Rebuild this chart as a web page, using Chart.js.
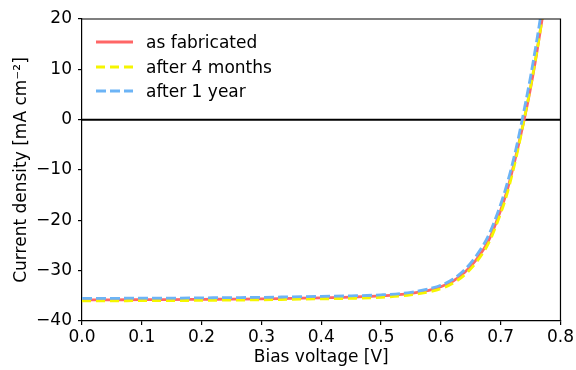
<!DOCTYPE html>
<html>
<head>
<meta charset="utf-8">
<script src="https://cdn.jsdelivr.net/npm/chart.js@4/dist/chart.umd.min.js"></script>
<style>
  html, body { margin: 0; padding: 0; background: #fff; }
  #wrap { width: 576px; height: 370px; }
</style>
</head>
<body>
<div id="wrap"><canvas id="jv" width="576" height="370"></canvas></div>
<script>
// Bias voltage sample points [V]
const voltage = [0, 0.05, 0.1, 0.15, 0.2, 0.25, 0.3, 0.35, 0.4, 0.45, 0.5, 0.55, 0.58, 0.6, 0.62, 0.64, 0.66, 0.68, 0.7, 0.71, 0.72, 0.73, 0.74, 0.75, 0.76, 0.77, 0.775];

// Current density [mA cm^-2] for each measurement
const asFabricated = [-35.8, -35.8, -35.75, -35.75, -35.7, -35.65, -35.6, -35.5, -35.4, -35.25, -35.0, -34.5, -33.9, -33.2, -32.1, -30.3, -27.7, -24.0, -18.0, -14.4, -9.9, -4.9, 0.4, 6.3, 13.0, 20.5, 24.5];
const after4Months = [-36.0, -36.0, -35.95, -35.95, -35.9, -35.85, -35.8, -35.7, -35.6, -35.5, -35.3, -34.8, -34.2, -33.6, -32.5, -30.8, -28.2, -24.5, -18.6, -15.0, -10.5, -5.3, 0.5, 6.5, 13.2, 20.5, 24.5];
const after1Year = [-35.5, -35.5, -35.45, -35.45, -35.4, -35.35, -35.3, -35.2, -35.1, -35.0, -34.8, -34.3, -33.6, -32.9, -31.7, -29.8, -26.9, -22.9, -16.8, -13.0, -8.6, -3.4, 2.4, 8.6, 15.5, 23.0, 27.0];

const seriesNames = ['as fabricated', 'after 4 months', 'after 1 year'];

// Axis tick values
const xTicks = [0, 0.1, 0.2, 0.3, 0.4, 0.5, 0.6, 0.7, 0.8];
const yTicks = [-40, -30, -20, -10, 0, 10, 20];

const FONT = 'DejaVu Sans';
const FS = 17;

function pts(ys) { return voltage.map((v, i) => ({ x: v, y: ys[i] })); }

// Top/right frame plus the in-plot legend
const framePlugin = {
  id: 'frameAndLegend',
  afterDraw(chart) {
    const { ctx, chartArea: a } = chart;
    ctx.save();
    ctx.strokeStyle = '#000';
    ctx.lineWidth = 1.2;
    ctx.beginPath();
    ctx.moveTo(a.left, a.top);
    ctx.lineTo(a.right, a.top);
    ctx.lineTo(a.right, a.bottom);
    ctx.stroke();

    const x0 = 96, x1 = 133, tx = 146, rows = [42, 67, 91];
    chart.data.datasets.slice(0, 3).forEach((ds, i) => {
      ctx.beginPath();
      ctx.strokeStyle = ds.borderColor;
      ctx.lineWidth = ds.borderWidth;
      ctx.setLineDash(ds.borderDash || []);
      ctx.moveTo(x0, rows[i]);
      ctx.lineTo(x1, rows[i]);
      ctx.stroke();
      ctx.setLineDash([]);
      ctx.fillStyle = '#000';
      ctx.font = FS + 'px "' + FONT + '"';
      ctx.textBaseline = 'middle';
      ctx.textAlign = 'left';
      ctx.fillText(ds.label, tx, rows[i] + 2);
    });
    ctx.restore();
  }
};

new Chart(document.getElementById('jv'), {
  type: 'scatter',
  data: {
    datasets: [
      { label: seriesNames[0], data: pts(asFabricated), showLine: true, borderColor: '#ff6666', borderWidth: 2.8, pointRadius: 0, cubicInterpolationMode: 'monotone', order: 3 },
      { label: seriesNames[1], data: pts(after4Months), showLine: true, borderColor: '#f5f500', borderWidth: 2.8, borderDash: [9, 5], pointRadius: 0, cubicInterpolationMode: 'monotone', order: 2 },
      { label: seriesNames[2], data: pts(after1Year), showLine: true, borderColor: '#6cb4f6', borderWidth: 2.8, borderDash: [10, 4], pointRadius: 0, cubicInterpolationMode: 'monotone', order: 1 },
      { label: 'zero', data: [{ x: 0, y: 0 }, { x: 0.8, y: 0 }], showLine: true, borderColor: '#000', borderWidth: 2, pointRadius: 0, order: 4 }
    ]
  },
  options: {
    responsive: false,
    animation: false,
    events: [],
    layout: { padding: { top: 19, right: 14, left: 0, bottom: 0 } },
    plugins: { legend: { display: false }, tooltip: { enabled: false } },
    scales: {
      x: {
        type: 'linear', min: 0, max: 0.8,
        afterBuildTicks(s) { s.ticks = xTicks.map(v => ({ value: v })); },
        afterFit(s) { s.height = 49; },
        ticks: { color: '#000', font: { family: FONT, size: FS }, padding: 2, maxRotation: 0, callback: v => v.toFixed(1) },
        grid: { drawOnChartArea: false, drawTicks: true, tickLength: 4, color: '#000', lineWidth: 1.2 },
        border: { display: true, color: '#000', width: 1.2 },
        title: { display: true, text: 'Bias voltage [V]', color: '#000', font: { family: FONT, size: FS, lineHeight: 1.2 }, padding: { top: 0, bottom: 2 } }
      },
      y: {
        type: 'linear', min: -40, max: 20,
        afterBuildTicks(s) { s.ticks = yTicks.map(v => ({ value: v })); },
        afterFit(s) { s.width = 82; },
        ticks: { color: '#000', font: { family: FONT, size: FS }, padding: 6, callback: v => String(v).replace('-', '\u2212') },
        grid: { drawOnChartArea: false, drawTicks: true, tickLength: 4, color: '#000', lineWidth: 1.2 },
        border: { display: true, color: '#000', width: 1.2 },
        title: { display: true, text: 'Current density [mA cm\u207B\u00B2]', color: '#000', font: { family: FONT, size: FS, lineHeight: 1.2 }, padding: { top: 11, bottom: 0 } }
      }
    }
  },
  plugins: [framePlugin]
});
</script>
</body>
</html>
